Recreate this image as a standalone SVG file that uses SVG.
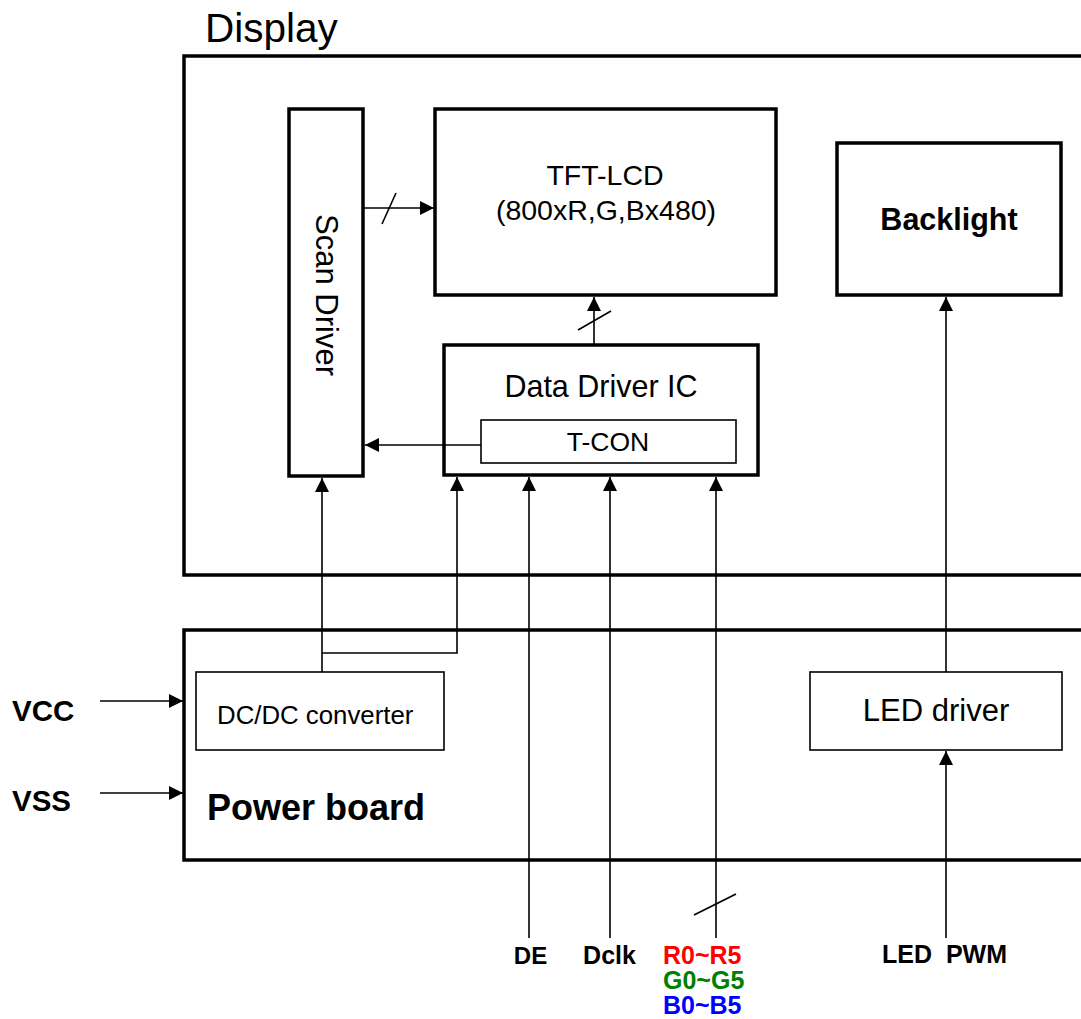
<svg xmlns="http://www.w3.org/2000/svg" width="1081" height="1019" viewBox="0 0 1081 1019">
<style>
.thick{fill:none;stroke:#000;stroke-width:3.5}
.thin{fill:none;stroke:#000;stroke-width:1.6}
.ln{fill:none;stroke:#000;stroke-width:1.6}
text{font-family:"Liberation Sans",Arial,sans-serif;fill:#000}
.b{font-weight:bold}
.m{text-anchor:middle}
</style>
<defs>
<marker id="ah" markerUnits="userSpaceOnUse" markerWidth="14" markerHeight="14" refX="14" refY="7" orient="auto">
<path d="M0,0 L14,7 L0,14 z" fill="#000"/>
</marker>
</defs>
<rect x="0" y="0" width="1081" height="1019" fill="#fff"/>

<g id="display">
<rect class="thick" x="184" y="56" width="1000" height="519"/>
<text x="205" y="42" font-size="40.5">Display</text>
</g>

<g id="scan-driver">
<rect class="thick" x="289" y="109" width="74" height="367"/>
<text class="m" font-size="31" transform="translate(316,295) rotate(90)">Scan Driver</text>
</g>

<g id="tft-lcd">
<rect class="thick" x="435" y="109" width="341" height="186"/>
<text class="m" x="605" y="185" font-size="28.5">TFT-LCD</text>
<text class="m" x="606" y="220" font-size="28.5">(800xR,G,Bx480)</text>
</g>

<g id="backlight">
<rect class="thick" x="837" y="143" width="224" height="152"/>
<text class="m b" x="949" y="230" font-size="30.5">Backlight</text>
</g>

<g id="data-driver">
<rect class="thick" x="444" y="345" width="314" height="130"/>
<text class="m" x="601" y="397" font-size="30.5">Data Driver IC</text>
</g>

<g id="t-con">
<rect class="thin" x="481" y="420" width="255" height="43"/>
<text class="m" x="608" y="451" font-size="26.5">T-CON</text>
</g>

<g id="power-board">
<rect class="thick" x="184" y="630" width="1000" height="230"/>
<text class="b" x="207" y="820" font-size="36">Power board</text>
</g>

<g id="dcdc">
<rect class="thin" x="196" y="672" width="248" height="78"/>
<text x="217" y="724" font-size="25.8">DC/DC converter</text>
</g>

<g id="led-driver">
<rect class="thin" x="810" y="672" width="252" height="78"/>
<text class="m" x="936" y="721" font-size="31">LED driver</text>
</g>

<g id="labels">
<text class="b" x="12" y="721" font-size="29.5">VCC</text>
<text class="b" x="12" y="811" font-size="29.5">VSS</text>
<text class="b m" x="530.5" y="964" font-size="24">DE</text>
<text class="b m" x="609.5" y="964" font-size="25">Dclk</text>
<text class="b" x="663" y="964" font-size="25" style="fill:#ff0000">R0~R5</text>
<text class="b" x="663" y="989" font-size="25" style="fill:#008000">G0~G5</text>
<text class="b" x="663" y="1014" font-size="25" style="fill:#0000ff">B0~B5</text>
<text class="b" x="882" y="963" font-size="25" style="white-space:pre">LED  PWM</text>
</g>

<g id="connectors">
<line class="ln" x1="364" y1="208" x2="434" y2="208" marker-end="url(#ah)"/>
<line class="ln" x1="382" y1="224" x2="396" y2="193"/>
<line class="ln" x1="594" y1="344" x2="594" y2="297" marker-end="url(#ah)"/>
<line class="ln" x1="578" y1="330" x2="611" y2="311"/>
<line class="ln" x1="481" y1="445" x2="365" y2="445" marker-end="url(#ah)"/>
<line class="ln" x1="322" y1="672" x2="322" y2="478" marker-end="url(#ah)"/>
<polyline class="ln" points="322,653 457,653 457,477" marker-end="url(#ah)"/>
<line class="ln" x1="529" y1="938" x2="529" y2="477" marker-end="url(#ah)"/>
<line class="ln" x1="610" y1="938" x2="610" y2="477" marker-end="url(#ah)"/>
<line class="ln" x1="716" y1="938" x2="716" y2="477" marker-end="url(#ah)"/>
<line class="ln" x1="694" y1="915" x2="736" y2="894"/>
<line class="ln" x1="946" y1="938" x2="946" y2="751" marker-end="url(#ah)"/>
<line class="ln" x1="946" y1="672" x2="946" y2="297" marker-end="url(#ah)"/>
<line class="ln" x1="100" y1="701" x2="183" y2="701" marker-end="url(#ah)"/>
<line class="ln" x1="100" y1="793" x2="183" y2="793" marker-end="url(#ah)"/>
</g>
</svg>
